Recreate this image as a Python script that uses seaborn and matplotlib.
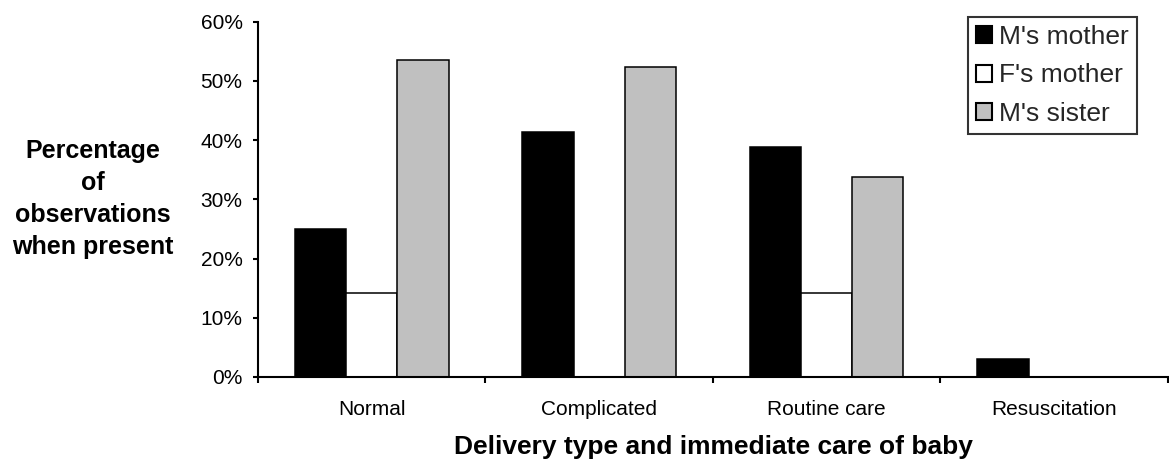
import matplotlib
matplotlib.use("Agg")
import matplotlib.pyplot as plt
from matplotlib.patches import Patch
from matplotlib.ticker import PercentFormatter
import seaborn as sns
import pandas as pd

# Categories and series shown in the chart
categories = ["Normal", "Complicated", "Routine care", "Resuscitation"]
series = ["M's mother", "F's mother", "M's sister"]

# Percentage of observations when present, per series
m_mother = [25.0, 41.4, 38.8, 3.1]
f_mother = [14.2, 0.0, 14.2, 0.0]
m_sister = [53.5, 52.4, 33.7, 0.0]

y_ticks = [0, 10, 20, 30, 40, 50, 60]

colors = ["#000000", "#FFFFFF", "#C0C0C0"]

df = pd.DataFrame({
    "category": categories * 3,
    "series": [series[0]] * 4 + [series[1]] * 4 + [series[2]] * 4,
    "value": m_mother + f_mother + m_sister,
})

sns.set_theme(style="white")
plt.rcParams["font.family"] = ["Liberation Sans", "DejaVu Sans"]

fig = plt.figure(figsize=(11.69, 4.66), dpi=100)
ax = fig.add_axes([0.2207, 0.1910, 0.7784, 0.7624])

sns.barplot(
    data=df, x="category", y="value", hue="series",
    order=categories, hue_order=series, palette=colors,
    saturation=1, width=0.675, gap=0, edgecolor="black", linewidth=1.1,
    errorbar=None, legend=False, ax=ax,
)

ax.set_xlim(-0.5, len(categories) - 0.5)
ax.set_ylim(0, 60)
ax.set_yticks(y_ticks)
ax.yaxis.set_major_formatter(PercentFormatter(decimals=0))

# Category labels centred under groups, tick marks on group boundaries
ax.set_xticks(range(len(categories)))
ax.set_xticklabels(categories)
ax.set_xticks([i - 0.5 for i in range(len(categories) + 1)], minor=True)
ax.tick_params(axis="x", which="major", length=0, pad=16.5, labelsize=15, colors="black")
ax.tick_params(axis="x", which="minor", bottom=True, length=4, width=1.5, direction="out", color="black")
ax.tick_params(axis="y", which="major", left=True, length=3.6, width=1.5, direction="out",
               pad=7.5, labelsize=15, colors="black")

for side in ["top", "right"]:
    ax.spines[side].set_visible(False)
for side in ["left", "bottom"]:
    ax.spines[side].set_color("black")
    ax.spines[side].set_linewidth(1.5)

ax.set_xlabel("")
ax.set_ylabel("")

fig.text(0.0796, 0.572, "Percentage\nof\nobservations\nwhen present",
         ha="center", va="center", fontsize=18, fontweight="bold",
         linespacing=1.42, color="black")
fig.text(0.6104, 0.040, "Delivery type and immediate care of baby",
         ha="center", va="center", fontsize=19, fontweight="bold", color="black")

handles = [Patch(facecolor=c, edgecolor="black", linewidth=1.5) for c in colors]
leg = ax.legend(
    handles, series, loc="upper right", bbox_to_anchor=(0.9726, 0.9635),
    bbox_transform=fig.transFigure, borderaxespad=0, frameon=True,
    fancybox=False, shadow=False, fontsize=19, handlelength=0.62,
    handleheight=0.62, handletextpad=0.26, labelspacing=0.55, borderpad=0.3,
)
leg.get_frame().set_edgecolor("black")
leg.get_frame().set_linewidth(1.5)
leg.get_frame().set_facecolor("white")

fig.savefig("out.png", dpi=100, facecolor="white")
